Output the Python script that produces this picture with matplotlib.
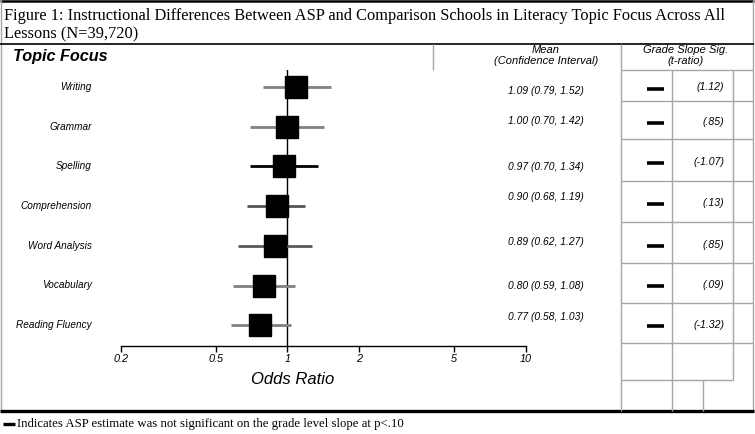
import matplotlib
matplotlib.use("Agg")
import matplotlib.pyplot as plt
from matplotlib.lines import Line2D
from matplotlib.ticker import NullLocator

# ---------------- data ----------------
topics = ["Writing", "Grammar", "Spelling", "Comprehension", "Word Analysis",
          "Vocabulary", "Reading Fluency"]
means = [1.09, 1.00, 0.97, 0.90, 0.89, 0.80, 0.77]
ci_low = [0.79, 0.70, 0.70, 0.68, 0.62, 0.59, 0.58]
ci_high = [1.52, 1.42, 1.34, 1.19, 1.27, 1.08, 1.03]
t_ratios = [1.12, 0.85, -1.07, 0.13, 0.85, 0.09, -1.32]
slope_significant = [False, False, False, False, False, False, False]
x_ticks = [0.2, 0.5, 1, 2, 5, 10]
x_tick_labels = ["0.2", "0.5", "1", "2", "5", "10"]

title_lines = ["Figure 1: Instructional Differences Between ASP and Comparison Schools in Literacy Topic Focus Across All",
               "Lessons (N=39,720)"]
footnote = "Indicates ASP estimate was not significant on the grade level slope at p<.10"

# ---------------- styles ----------------
ci_colors = ["#808080", "#808080", "#000000", "#555555", "#5a5a5a", "#808080", "#808080"]
W, H = 755, 434
SANS = "Liberation Sans"
SERIF = "Liberation Serif"
GRID = "#a6a6a6"

fig = plt.figure(figsize=(W / 100, H / 100), dpi=100)
fig.patch.set_facecolor("white")


def fx(x):
    return x / W


def fy(y):
    return 1 - y / H


def fline(x0, x1, y0, y1, color="black", lw=1.0):
    fig.add_artist(Line2D([fx(x0), fx(x1)], [fy(y0), fy(y1)],
                          transform=fig.transFigure, color=color, lw=lw,
                          solid_capstyle="butt"))


def ftext(x, y, s, **kw):
    fig.text(fx(x), fy(y), s, transform=fig.transFigure, **kw)


# ---------------- frame ----------------
fline(0, 754, 1, 1, "black", 1.8)          # top border
fline(1, 1, 0, 411, GRID, 1.0)             # left border
fline(752.5, 752.5, 0, 411, GRID, 1.0)     # right border
fline(0, 754, 43.5, 43.5, "black", 1.2)    # under title
fline(0, 754, 411, 411, "black", 2.4)      # bottom heavy line

# title
ftext(4, 20, title_lines[0], family=SERIF, fontsize=11.8, va="baseline", ha="left")
ftext(4, 38.5, title_lines[1], family=SERIF, fontsize=11.8, va="baseline", ha="left")

# header
ftext(13, 57, "Topic Focus", family=SANS, fontsize=11.7, fontweight="bold",
      fontstyle="italic", va="center", ha="left")
fline(433, 433, 44, 70, GRID, 1.0)
fline(620.5, 620.5, 44, 411, GRID, 1.0)
hdr = dict(family=SANS, fontsize=8.0, fontstyle="italic", va="center", ha="center")
ftext(546, 50, "Mean", **hdr)
ftext(546, 61.5, "(Confidence Interval)", **hdr)
ftext(686, 50, "Grade Slope Sig.", **hdr)
ftext(686, 61.5, "(t-ratio)", **hdr)

# table grid on the right
row_lines = [70, 101, 139, 181, 222, 263, 303, 343]
for y in row_lines:
    fline(620.5, 752.5, y, y, GRID, 1.0)
fline(620.5, 733, 380, 380, GRID, 1.0)
fline(672, 672, 70, 411, GRID, 1.0)
fline(733, 733, 70, 380, GRID, 1.0)
fline(703, 703, 380, 411, GRID, 1.0)

# ---------------- forest plot axes ----------------
x_left, x_right = 120.7, 526.0
y_top, y_bottom = 70.0, 345.7
row0, row_step = 87.0, 39.7
ax = fig.add_axes([fx(x_left), fy(y_bottom), (x_right - x_left) / W, (y_bottom - y_top) / H])
ax.set_facecolor("none")
ax.set_xscale("log")
ax.set_xlim(x_ticks[0], x_ticks[-1])
ax.set_ylim((y_bottom - row0) / row_step, (y_top - row0) / row_step)
ypos = list(range(len(topics)))

ax.axvline(1, color="black", lw=1.0, zorder=1)
ax.hlines(ypos, ci_low, ci_high, colors=ci_colors, lw=2.0, zorder=2)
ax.plot(means, ypos, "s", ms=15.2, color="black", mec="black", zorder=3)

for side in ["left", "top", "right"]:
    ax.spines[side].set_visible(False)
ax.spines["bottom"].set_linewidth(1.0)
ax.set_yticks([])
ax.set_xticks(x_ticks)
ax.set_xticklabels(x_tick_labels)
ax.xaxis.set_minor_locator(NullLocator())
ax.tick_params(axis="x", direction="out", length=4.5, width=1.0, pad=1.5,
               labelsize=7.8)
for lbl in ax.get_xticklabels():
    lbl.set_fontstyle("italic")
    lbl.set_family(SANS)

ftext(293, 380, "Odds Ratio", family=SANS, fontsize=12, fontstyle="italic",
      va="center", ha="center")

# row labels and CI text
mean_text_y = [91.5, 121.5, 166.5, 197, 242, 286, 316.5]
for i, name in enumerate(topics):
    yc = row0 + i * row_step
    ftext(92, yc, name, family=SANS, fontsize=7.2, fontstyle="italic",
          va="center", ha="right")
    s = f"{means[i]:.2f} ({ci_low[i]:.2f}, {ci_high[i]:.2f})"
    ftext(546, mean_text_y[i], s, family=SANS, fontsize=7.4, fontstyle="italic",
          va="center", ha="center")


def fmt_t(v):
    s = f"{abs(v):.2f}"
    if s.startswith("0"):
        s = s[1:]
    return "(" + ("-" if v < 0 else "") + s + ")"


for i, t in enumerate(t_ratios):
    yc = (row_lines[i] + row_lines[i + 1]) / 2 + 2
    if not slope_significant[i]:
        fline(647, 664, yc + 1, yc + 1, "black", 2.6)
    ftext(724, yc, fmt_t(t), family=SANS, fontsize=7.6, fontstyle="italic",
          va="center", ha="right")

# footnote
fline(3, 15, 424, 424, "black", 2.4)
ftext(17, 427.5, footnote, family=SERIF, fontsize=9.2, va="baseline", ha="left")

fig.savefig("out.png", dpi=100)
